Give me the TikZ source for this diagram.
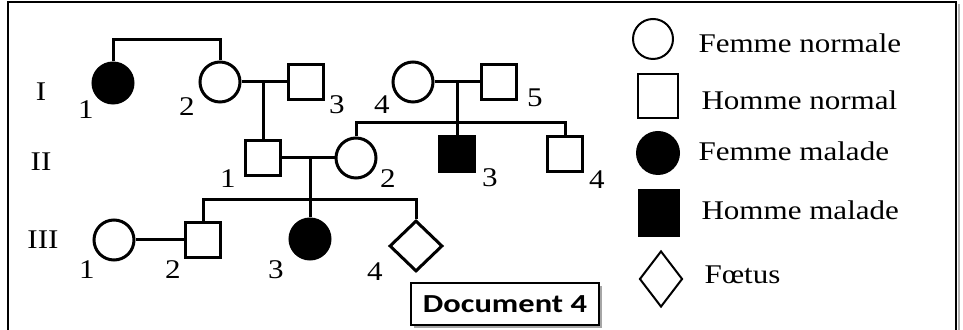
\documentclass[tikz,border=0pt]{standalone}
\usepackage{fontspec}
\setmainfont{Liberation Serif}[FakeStretch=1.15]
\newfontfamily\docfont{Carlito}[FakeStretch=1.25]
\usetikzlibrary{shapes.geometric,shadows}

\begin{document}
\begin{tikzpicture}[x=0.5pt, y=-0.5pt, line width=1.5pt,
  femme/.style={circle, draw, inner sep=0pt, minimum size=20pt},
  homme/.style={rectangle, draw, inner sep=0pt, minimum size=17.5pt},
  foetus/.style={diamond, draw, inner sep=0pt, minimum width=26.5pt, minimum height=25.5pt},
  malade/.style={fill=black},
  num/.style={font=\fontsize{13.5}{16}\selectfont, inner sep=0pt},
  legsym/.style={line width=1pt},
  legtext/.style={font=\fontsize{13.5}{16}\selectfont, anchor=west, inner sep=0pt}]
\clip (0,0) rectangle (963,330);
% cadre
\draw[gray!60, line width=1pt] (959,4) -- (959,340);
\draw[line width=1.25pt] (8,2) rectangle (956,340);
% generations
\node[num] (gI) at (41,92) {I};
\node[num] (gII) at (41,162) {II};
\node[num] (gIII) at (43,240) {III};
% generation I
\node[femme, malade] (I1) at (113,83) {};
\node[femme] (I2) at (220,82) {};
\node[homme] (I3) at (306,82) {};
\node[femme] (I4) at (413,82) {};
\node[homme] (I5) at (499,82) {};
\node[num] (nI1) at (86,110) {1};
\node[num] (nI2) at (187,107) {2};
\node[num] (nI3) at (337,105) {3};
\node[num] (nI4) at (382,105) {4};
\node[num] (nI5) at (535,98) {5};
% generation II
\node[homme] (II1) at (263,158) {};
\node[femme] (II2) at (356,158) {};
\node[homme, malade] (II3) at (457,154) {};
\node[homme] (II4) at (565,154) {};
\node[num] (nII1) at (228,179) {1};
\node[num] (nII2) at (388,179) {2};
\node[num] (nII3) at (490,178) {3};
\node[num] (nII4) at (597,180) {4};
% generation III
\node[femme] (III1) at (114,240) {};
\node[homme] (III2) at (203,240) {};
\node[femme, malade] (III3) at (310,239) {};
\node[foetus] (III4) at (416,246) {};
\node[num] (nIII1) at (87,270) {1};
\node[num] (nIII2) at (173,270) {2};
\node[num] (nIII3) at (276,270) {3};
\node[num] (nIII4) at (375,272) {4};
% liens
\draw (I1.north) -- ++(0,-22) -| (I2.north);
\draw (I2.east) -- (I3.west);
\draw (I4.east) -- (I5.west);
\draw (II1.north) -- (II1.north |- I2.east);
\draw (II3.north) -- (II3.north |- I4.east);
\draw (II2.north) -- ++(0,-14) -| (II4.north);
\draw (II1.east) -- (II2.west);
\draw (III3.north) -- (III3.north |- II1.east);
\draw (III2.north) -- ++(0,-21) -| (III4.north);
\draw (III1.east) -- (III2.west);
% legende
\node[femme, legsym] (Lfn) at (653,39) {};
\node[homme, legsym, minimum width=20pt, minimum height=22pt] (Lhn) at (658,96) {};
\node[femme, malade, legsym, minimum size=21pt] (Lfm) at (658,153) {};
\node[homme, malade, legsym, minimum width=20pt, minimum height=23pt] (Lhm) at (659,213) {};
\node[foetus, legsym, minimum width=21.5pt, minimum height=28pt] (Lf) at (661,279) {};
\node[legtext] (tfn) at (697,43) {Femme normale};
\node[legtext] (thn) at (700,100) {Homme normal};
\node[legtext] (tfm) at (697,151) {Femme malade};
\node[legtext] (thm) at (700,210) {Homme malade};
\node[legtext] (tf) at (703,275) {Fœtus};
% document
\node[draw, fill=white, line width=1pt, minimum width=94pt, minimum height=21pt,
  drop shadow={shadow xshift=1.5pt, shadow yshift=-1.5pt, fill=gray!70, opacity=1},
  font=\docfont\bfseries\fontsize{13}{15}\selectfont] (doc) at (505,304) {Document 4};
\end{tikzpicture}
\end{document}
